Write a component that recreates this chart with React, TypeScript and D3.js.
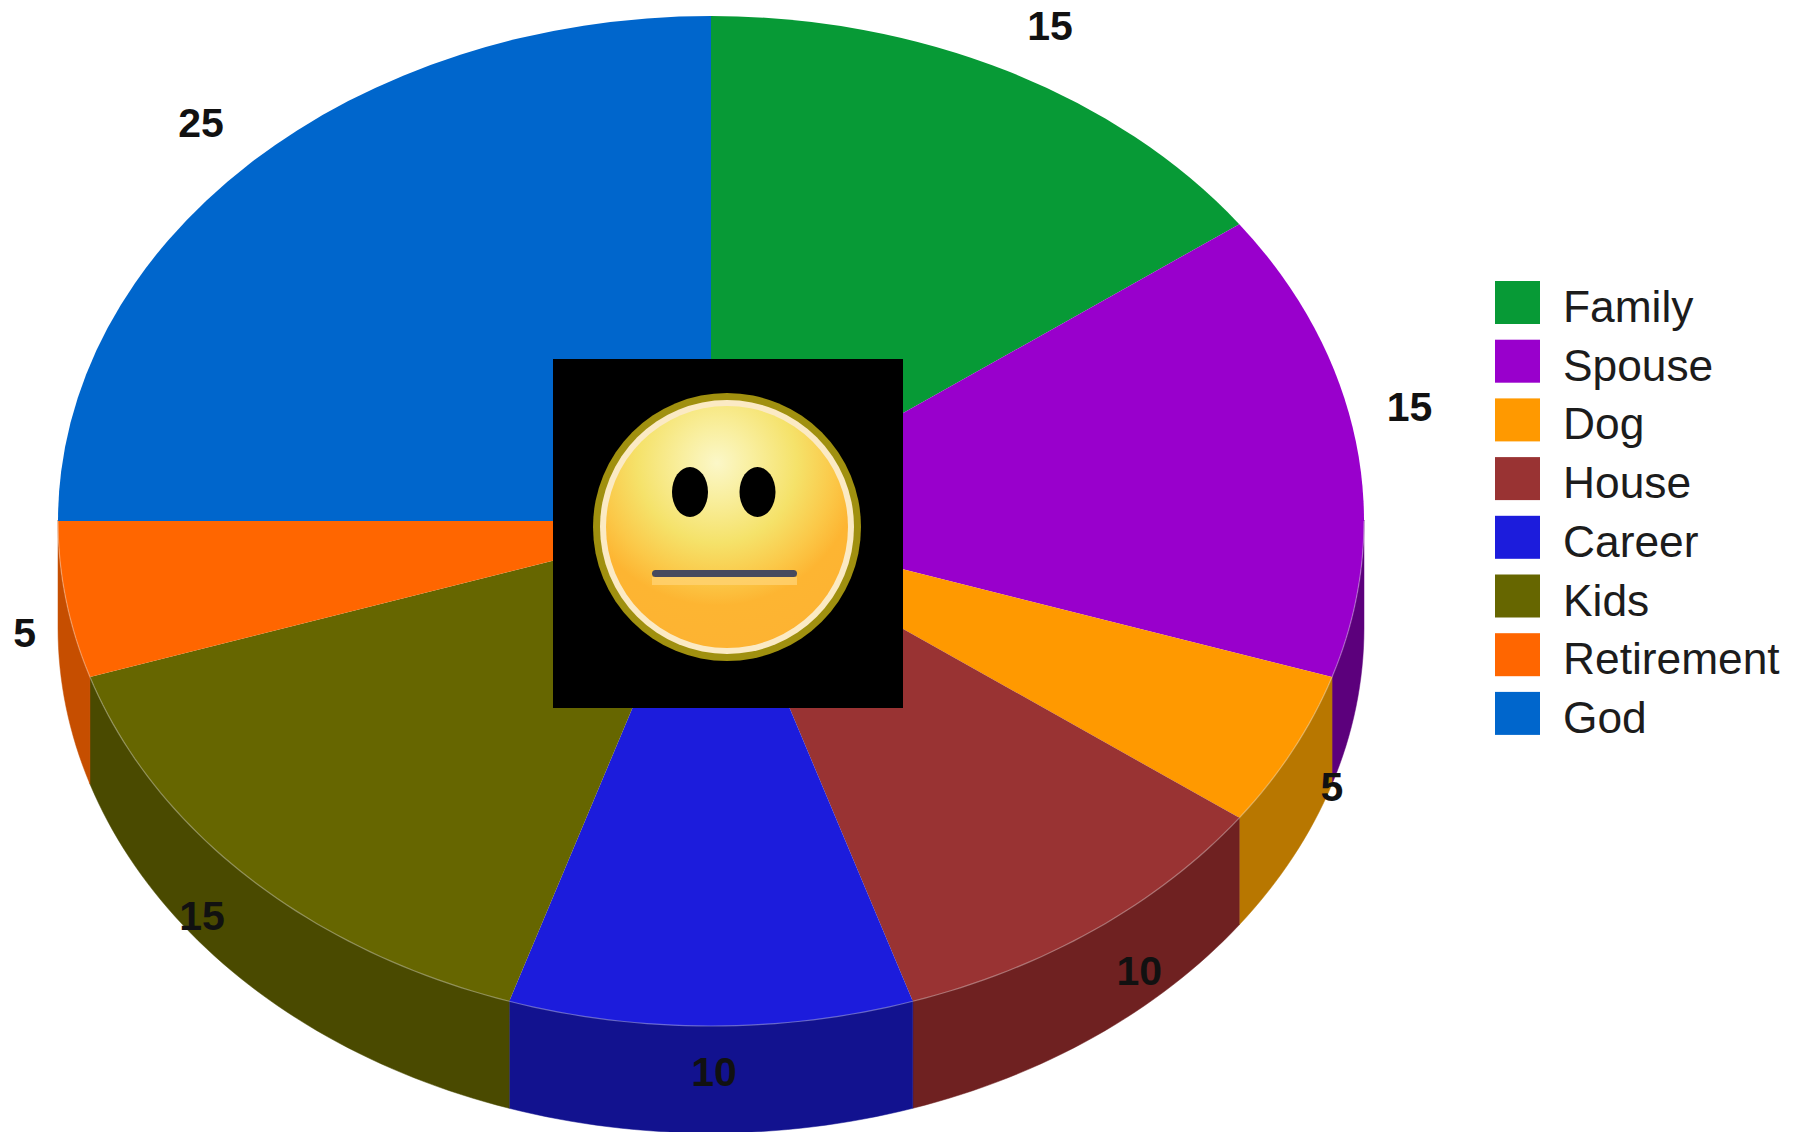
import React from "react";
import * as d3 from "d3";

const categories = ["Family", "Spouse", "Dog", "House", "Career", "Kids", "Retirement", "God"];
const values = [15, 15, 5, 10, 10, 15, 5, 25];
const topColors = ["#079a36", "#9900cc", "#ff9900", "#993333", "#1c1cdc", "#666600", "#ff6600", "#0066cc"];
const wallColors = ["#056b26", "#5c007c", "#b87700", "#6f2121", "#12128f", "#4a4a00", "#c64e00", "#004a94"];

const W = 1800, H = 1132;
const cx = 711, cy = 520, rx = 653, ry = 505, depth = 108;
const FONT = '"Liberation Sans", Arial, sans-serif';
// small per-label corrections from the nominal label ellipse
const labelNudge = [[13, 0], [-11, -27], [-19, 14], [6, 1], [3, -4], [-1, 3], [23, 26], [-2, -5]];

const pie = d3.pie<number>().sort(null).startAngle(0).endAngle(2 * Math.PI);
const arcs = pie(values);
const arcGen = d3.arc<d3.PieArcDatum<number>>().innerRadius(0).outerRadius(rx);
const rimX = (a: number) => cx + rx * Math.sin(a);
const rimY = (a: number) => cy - ry * Math.cos(a);
const lineGen = d3.line<[number, number]>();

function samples(a0: number, a1: number): number[] {
  const n = Math.max(2, Math.ceil((a1 - a0) / 0.02));
  return d3.range(n + 1).map((i) => a0 + ((a1 - a0) * i) / n);
}

function wallPath(a0: number, a1: number): string | null {
  const s = Math.max(a0, Math.PI / 2), e = Math.min(a1, (3 * Math.PI) / 2);
  if (e <= s) return null;
  const as = samples(s, e);
  const upper = as.map((a) => [rimX(a), rimY(a)] as [number, number]);
  const lower = as.slice().reverse().map((a) => [rimX(a), rimY(a) + depth] as [number, number]);
  return lineGen([...upper, ...lower]) + "Z";
}

function rimPath(a0: number, a1: number): string | null {
  const s = Math.max(a0, Math.PI / 2), e = Math.min(a1, (3 * Math.PI) / 2);
  if (e <= s) return null;
  return lineGen(samples(s, e).map((a) => [rimX(a), rimY(a)] as [number, number]));
}

function Face() {
  const fx = 727, fy = 527;
  return (
    <g>
      <defs>
        <radialGradient id="faceGrad" gradientUnits="userSpaceOnUse" cx={717} cy={463} r={190}>
          <stop offset="0" stopColor="#fbf7c8" />
          <stop offset="0.18" stopColor="#f9efa0" />
          <stop offset="0.42" stopColor="#f5e26a" />
          <stop offset="0.62" stopColor="#fbc848" />
          <stop offset="0.75" stopColor="#fdb532" />
          <stop offset="1" stopColor="#fdb332" />
        </radialGradient>
      </defs>
      <rect x={553} y={359} width={350} height={349} fill="#000" />
      <circle cx={fx} cy={fy} r={134} fill="#a0900f" />
      <circle cx={fx} cy={fy} r={127} fill="#fbeac4" />
      <circle cx={fx} cy={fy} r={121} fill="url(#faceGrad)" />
      <ellipse cx={690} cy={492} rx={18} ry={25} fill="#000" />
      <ellipse cx={757.5} cy={492} rx={18} ry={25} fill="#000" />
      <rect x={652} y={577} width={145} height={8} fill="#ffd272" opacity={0.8} />
      <rect x={652} y={570} width={145} height={7} rx={3.5} fill="#474a5e" />
    </g>
  );
}

export default function App() {
  return (
    <svg width={W} height={H} viewBox={`0 0 ${W} ${H}`}
      style={{ position: "absolute", left: 0, top: 0, display: "block", background: "#fff" }}>
      <g>
        {arcs.map((d, i) => {
          const p = wallPath(d.startAngle, d.endAngle);
          return p && <path key={i} d={p} fill={wallColors[i]} stroke={wallColors[i]} strokeWidth={0.5} />;
        })}
      </g>
      <g transform={`translate(${cx},${cy + 1}) scale(1,${ry / rx})`}>
        {arcs.map((d, i) => (
          <path key={i} d={arcGen(d) as string} fill={topColors[i]} />
        ))}
      </g>
      <g fill="none" stroke="#fff" strokeOpacity={0.35} strokeWidth={1.2} transform="translate(0,1)">
        {arcs.map((d, i) => {
          const p = rimPath(d.startAngle, d.endAngle);
          return p && <path key={i} d={p} />;
        })}
      </g>
      <Face />
      <g fontFamily={FONT} fontWeight={700} fontSize={41} fill="#111" textAnchor="middle">
        {arcs.map((d, i) => {
          const a = (d.startAngle + d.endAngle) / 2;
          const x = cx + 1.1 * rx * Math.sin(a) + labelNudge[i][0];
          const y = cy - 1.1 * ry * Math.cos(a) + labelNudge[i][1];
          return <text key={i} x={x} y={y + 14.5}>{values[i]}</text>;
        })}
      </g>
      <g fontFamily={FONT} fontSize={44.3} fill="#1c1c1c">
        {categories.map((c, i) => (
          <g key={c} transform={`translate(1495,${281 + i * 58.7})`}>
            <rect width={45} height={43} fill={topColors[i]} />
            <text x={68} y={41}>{c}</text>
          </g>
        ))}
      </g>
    </svg>
  );
}
